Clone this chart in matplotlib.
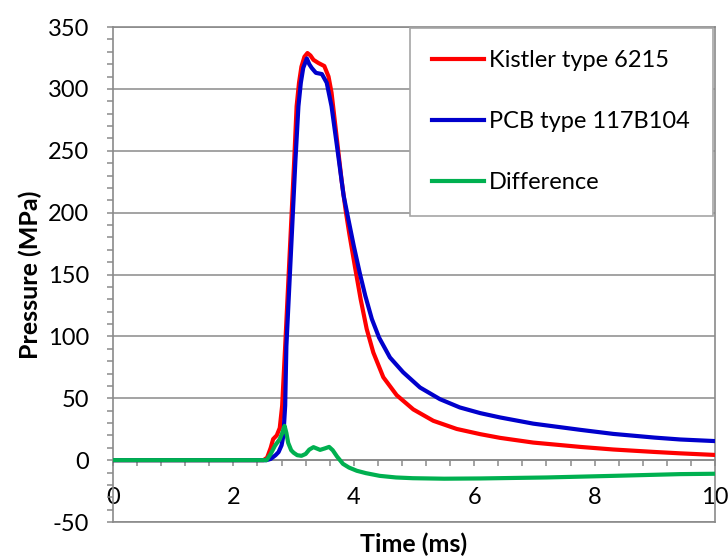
import matplotlib
matplotlib.use("Agg")
import matplotlib.pyplot as plt
from matplotlib.ticker import MultipleLocator

plt.rcParams['font.family'] = ['Lato', 'DejaVu Sans']
plt.rcParams['axes.unicode_minus'] = False

# Kistler type 6215
kistler_t = [0, 2.50, 2.56, 2.62, 2.66, 2.72, 2.77, 2.81, 2.86, 2.91, 2.96, 3.01, 3.05,
             3.09, 3.13, 3.18, 3.23, 3.28, 3.33, 3.41, 3.51, 3.58, 3.63, 3.72, 3.80,
             3.87, 3.925, 4.02, 4.114, 4.214, 4.324, 4.49, 4.712, 4.988, 5.32, 5.71,
             6.10, 6.43, 6.98, 7.76, 8.31, 9.00, 9.42, 10.0]
kistler_p = [0, 0, 2, 10, 17, 20, 26, 44, 92, 142, 192, 242, 286,
             305, 318, 326, 329, 327, 323.5, 321, 318.5, 310, 297, 259, 225,
             200, 183, 156, 130, 106, 87, 67, 52.5, 41, 31.8, 25.2,
             21.0, 18.0, 14.2, 10.7, 8.6, 6.6, 5.5, 4.2]

# PCB type 117B104
pcb_t = [0, 2.55, 2.62, 2.70, 2.75, 2.80, 2.83, 2.86, 2.88, 2.93, 2.98, 3.03, 3.08,
         3.12, 3.16, 3.22, 3.26, 3.30, 3.37, 3.47, 3.55, 3.63, 3.72, 3.83, 3.90,
         4.00, 4.10, 4.19, 4.30, 4.42, 4.60, 4.82, 5.10, 5.43, 5.76, 6.10,
         6.43, 6.98, 7.76, 8.31, 9.00, 9.42, 10.0]
pcb_p = [0, 0, 1, 4, 6.5, 12, 19.6, 44, 92, 142, 192, 242, 286,
         305, 317, 324.6, 320, 317, 313, 312, 305, 286, 254, 214, 197,
         173, 151, 133, 114, 99, 83, 71, 58.7, 49.3, 42.6, 38,
         34.5, 29.5, 24.5, 21.2, 18.2, 16.7, 15.4]

# Difference
diff_t = [0, 2.55, 2.62, 2.69, 2.77, 2.82, 2.85, 2.88, 2.91, 2.96, 3.00, 3.06, 3.13,
          3.20, 3.26, 3.33, 3.38, 3.44, 3.52, 3.59, 3.65, 3.72, 3.82, 3.92, 4.05,
          4.20, 4.43, 4.70, 4.98, 5.50, 6.10, 7.20, 8.31, 9.42, 10.0]
diff_p = [0, 0, 5, 11.6, 17, 23, 27.7, 22, 14, 8, 6, 4, 3.5,
          5, 8.5, 10.5, 9.5, 8.3, 9.5, 10.7, 8, 3, -3, -6, -8.6,
          -10.5, -12.7, -14, -14.6, -15, -14.8, -14, -12.7, -11.3, -11]

labels = ["Kistler type 6215", "PCB type 117B104", "Difference"]
colors = ["#ff0000", "#0000cc", "#00b050"]

grey = "#8a8a8a"

fig = plt.figure(figsize=(7.28, 5.58), dpi=100)
ax = fig.add_axes([0.1552, 0.0645, 0.827, 0.887])

ax.plot(kistler_t, kistler_p, color=colors[0], lw=3, label=labels[0], zorder=3)
ax.plot(pcb_t, pcb_p, color=colors[1], lw=3, label=labels[1], zorder=3)
ax.plot(diff_t, diff_p, color=colors[2], lw=3, label=labels[2], zorder=3)

ax.set_xlim(0, 10)
ax.set_ylim(-50, 350)
ax.xaxis.set_major_locator(MultipleLocator(2))
ax.xaxis.set_minor_locator(MultipleLocator(0.4))
ax.yaxis.set_major_locator(MultipleLocator(50))
ax.yaxis.set_minor_locator(MultipleLocator(10))

ax.grid(axis='y', which='major', color=grey, lw=1.1)
ax.set_axisbelow(True)

# x axis sits at y = 0, frame drawn round the plot area
ax.spines['bottom'].set_position(('data', 0))
for s in ['left', 'right', 'top', 'bottom']:
    ax.spines[s].set_color(grey)
    ax.spines[s].set_linewidth(1.2)
ax.plot([0, 1], [0, 0], transform=ax.transAxes, color=grey, lw=1.2, clip_on=False)

ax.tick_params(axis='both', which='both', direction='out', color=grey, width=1.1, length=4)
ax.tick_params(axis='x', which='major', labelsize=17, pad=15)
ax.tick_params(axis='y', which='major', labelsize=17, pad=13)

ax.set_ylabel("Pressure (MPa)", fontsize=18, fontweight='bold', labelpad=4)
ax.set_xlabel("Time (ms)", fontsize=18, fontweight='bold')
ax.xaxis.set_label_coords(0.5, -0.022)

leg = ax.legend(loc='upper right', bbox_to_anchor=(712.5 / 728, (558 - 27.7) / 558),
                bbox_transform=fig.transFigure, fontsize=17, frameon=True,
                fancybox=False, framealpha=1, edgecolor='#a6a6a6',
                borderpad=0.95, labelspacing=1.7, handlelength=2.2,
                handletextpad=0.22, borderaxespad=0)
leg.get_frame().set_linewidth(1.2)
leg.set_zorder(5)

fig.savefig("out.png", dpi=100)
